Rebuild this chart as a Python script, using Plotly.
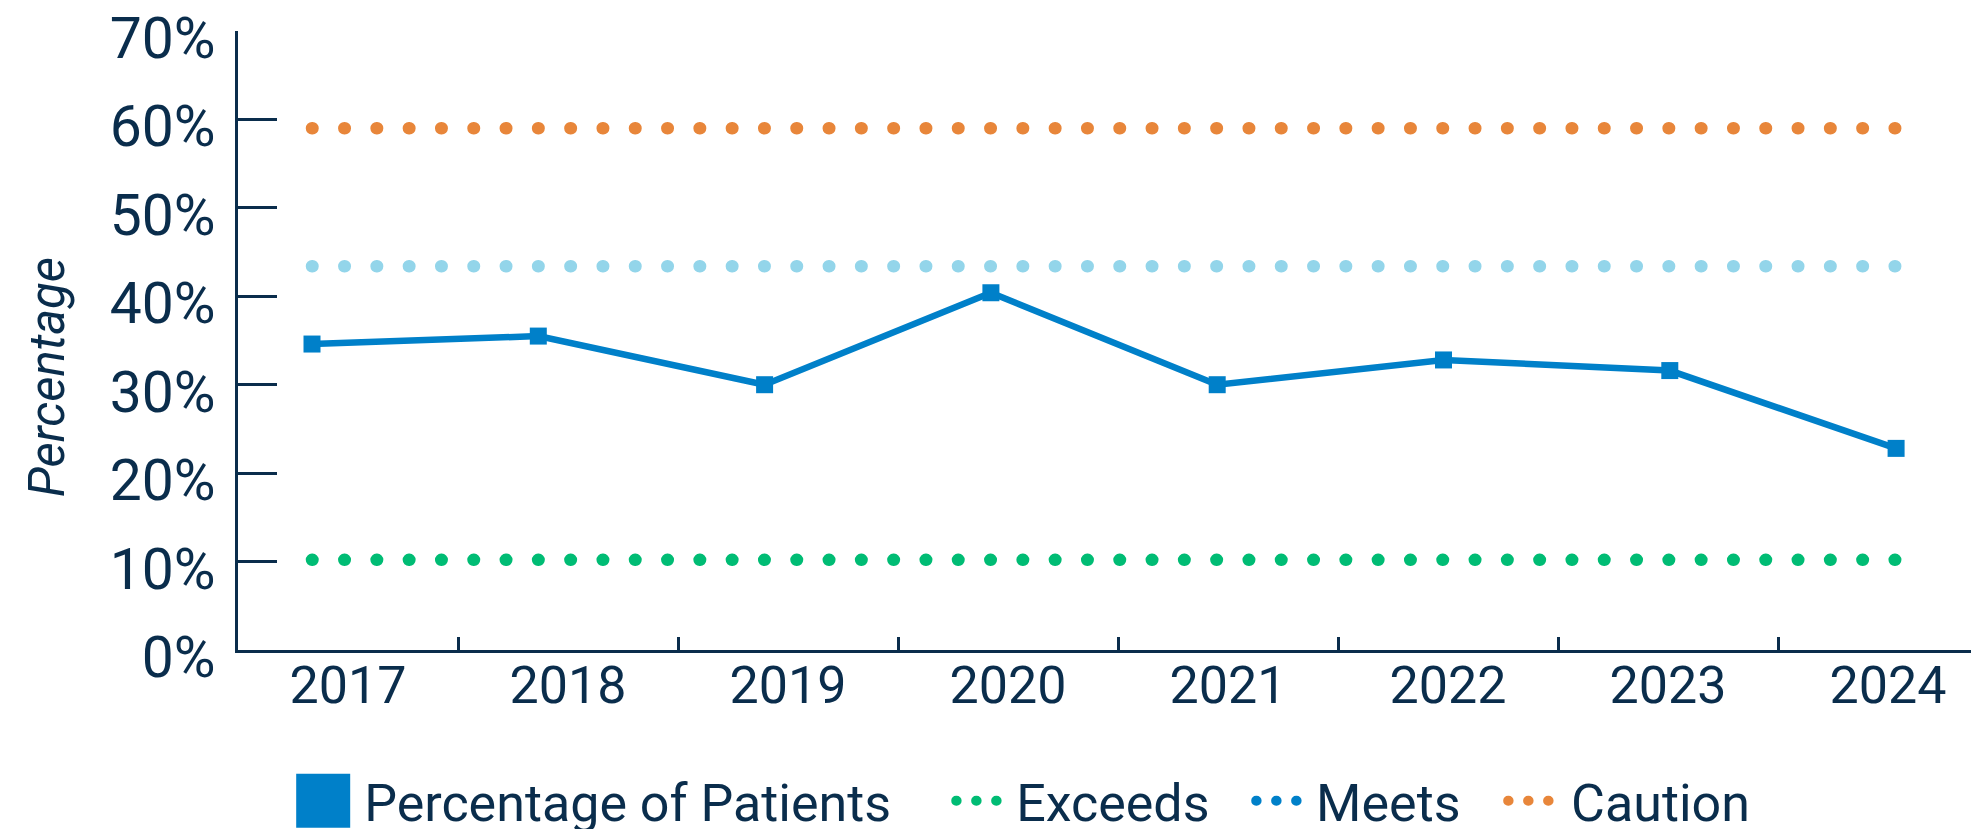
import plotly.graph_objects as go

# ---- data ----
years = [2017, 2018, 2019, 2020, 2021, 2022, 2023, 2024]
year_labels = [str(y) for y in years]
patients_pct = [34.6, 35.5, 30.0, 40.4, 30.0, 32.8, 31.6, 22.8]
exceeds_pct = 10.2
meets_pct = 43.4
caution_pct = 59.0
y_ticks = [0, 10, 20, 30, 40, 50, 60, 70]
y_tick_labels = [f"{v}%" for v in y_ticks]

NAVY = "#0a2d4c"
BLUE = "#0080c9"
LIGHT_BLUE = "#93d5ea"
GREEN = "#00bc74"
ORANGE = "#e8863a"
FONT = "Roboto"

fig = go.Figure()

x_idx = list(range(len(years)))
boundaries = [i + 0.5 for i in range(len(years) - 1)]

# invisible anchor trace so the category (label) axis is drawn
fig.add_trace(go.Scatter(x=x_idx, y=[None] * len(x_idx), mode="markers",
                         showlegend=False, hoverinfo="skip", xaxis="x", yaxis="y"))

thresholds = [("Exceeds", exceeds_pct, GREEN, GREEN, "legend2"),
              ("Meets", meets_pct, LIGHT_BLUE, BLUE, "legend3"),
              ("Caution", caution_pct, ORANGE, ORANGE, "legend4")]

# threshold lines (dotted) on the data axis
for name, val, col, _, _lg in thresholds:
    fig.add_trace(go.Scatter(
        x=[years[0], years[-1]], y=[val, val], mode="lines",
        line=dict(color=col, width=12.5, dash="0.5px,31.8px"),
        xaxis="x2", yaxis="y", showlegend=False, hoverinfo="skip"))

# main series
fig.add_trace(go.Scatter(
    x=years, y=patients_pct, mode="lines+markers", name="Percentage of Patients",
    line=dict(color=BLUE, width=6.5),
    marker=dict(symbol="square", size=17, color=BLUE),
    xaxis="x2", yaxis="y", showlegend=False))

# legend entries
fig.add_trace(go.Scatter(
    x=[None], y=[None], mode="markers", name="Percentage of Patients", legend="legend",
    marker=dict(symbol="square", size=16, color=BLUE), xaxis="x2", yaxis="y"))
for name, val, _, lcol, lg in thresholds:
    fig.add_trace(go.Scatter(
        x=[None], y=[None], mode="lines", name=name, legend=lg,
        line=dict(color=lcol, width=11, dash="0.5px,19.5px"),
        xaxis="x2", yaxis="y"))

LEG_Y = -0.1785
leg_common = dict(orientation="h", xanchor="left", y=LEG_Y, yanchor="top",
                  font=dict(size=52, color=NAVY, family=FONT),
                  bgcolor="rgba(0,0,0,0)")

fig.update_layout(
    width=1971, height=829,
    margin=dict(l=238, r=0, t=31, b=179, autoexpand=False),
    paper_bgcolor="white", plot_bgcolor="white",
    font=dict(family=FONT, color=NAVY, size=52),
    showlegend=True,
    legend=dict(leg_common, x=0.0255, itemwidth=72),
    legend2=dict(leg_common, x=0.4115, itemwidth=55),
    legend3=dict(leg_common, x=0.5846, itemwidth=55),
    legend4=dict(leg_common, x=0.7300, itemwidth=58),
    xaxis=dict(
        range=[-0.5, 7.377], tickmode="array", tickvals=x_idx, ticktext=year_labels,
        ticks="", showgrid=False, zeroline=False, showline=True, linecolor=NAVY,
        linewidth=3, tickfont=dict(size=52, color=NAVY), ticklabelstandoff=-12,
        minor=dict(tickmode="array", tickvals=boundaries, ticks="inside", ticklen=13,
                   tickwidth=3, tickcolor=NAVY, showgrid=False),
        fixedrange=True),
    xaxis2=dict(range=[2016.673, 2024.331], overlaying="x", anchor="y",
                visible=False, fixedrange=True),
    yaxis=dict(
        range=[0, 70], tickmode="array", tickvals=y_ticks, ticktext=y_tick_labels,
        ticks="inside", ticklen=39, tickwidth=3, tickcolor=NAVY,
        showgrid=False, zeroline=False, showline=True, linecolor=NAVY, linewidth=3,
        tickfont=dict(size=57, color=NAVY), ticklabelstandoff=8, ticklabelshift=7,
        fixedrange=True),
    annotations=[dict(text="<i>Percentage</i>", textangle=-90, xref="paper", yref="paper",
                      x=0, y=0.4408, xshift=-191, xanchor="center", yanchor="middle",
                      showarrow=False, font=dict(size=49, color=NAVY, family=FONT))],
)

post = """
document.body.style.margin = '0';
var gd = document.getElementById('{plot_id}');
var st = document.createElement('style');
st.textContent = '.js-line{stroke-linecap:round}';
document.head.appendChild(st);
gd.querySelectorAll('g.traces').forEach(function(t){
  var txt = t.querySelector('text.legendtext');
  if (txt && txt.textContent === 'Percentage of Patients') {
    t.querySelectorAll('.legendpoints path').forEach(function(p){
      p.setAttribute('d','M27,27H-27V-27H27Z');
    });
  }
});
"""

fig.write_html("out.html", post_script=post, config={"displayModeBar": False})
